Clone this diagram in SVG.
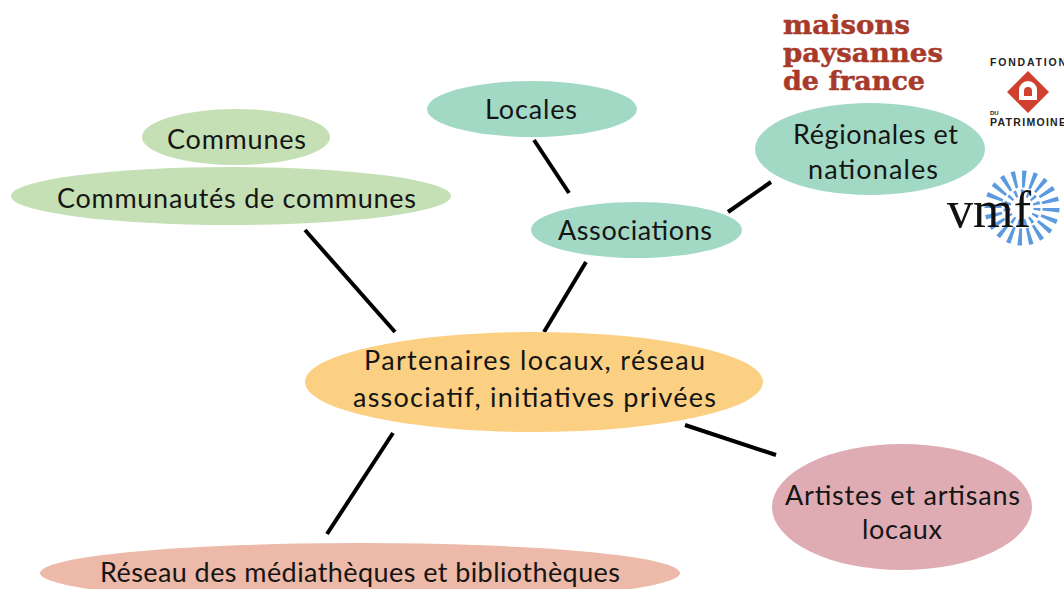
<svg xmlns="http://www.w3.org/2000/svg" width="1064" height="589" viewBox="0 0 1064 589">
<style>
text{font-family:"Lato","Noto Sans",sans-serif;font-size:27px;fill:#151515;text-anchor:middle}
.c line{stroke:#000;stroke-width:4}
text.mp{font-family:"DejaVu Serif",serif;font-weight:700;font-size:26.500px;fill:#a83a2b;text-anchor:start;stroke:#a83a2b;stroke-width:.5}
text.fd{font-family:"Liberation Sans",sans-serif;font-weight:700;font-size:10.5px;fill:#222;text-anchor:start}
text.vm{font-family:"Liberation Serif",serif;font-size:52px;fill:#111;text-anchor:start}
.ray{fill:none;stroke:#5b9ade}
</style>
<rect width="1064" height="589" fill="#fff"/>
<g class="c" id="connectors">
<line x1="305" y1="230" x2="395" y2="332"/>
<line x1="586" y1="262" x2="544" y2="332"/>
<line x1="534" y1="140" x2="569" y2="193"/>
<line x1="771" y1="182" x2="728" y2="212"/>
<line x1="685" y1="425" x2="776" y2="455"/>
<line x1="393" y1="433" x2="327" y2="534"/>
</g>
<g id="communes"><ellipse cx="236" cy="137" rx="94" ry="28" fill="#c5e0b4"/><text x="236.500" y="149" textLength="139">Communes</text></g>
<g id="communautes"><ellipse cx="231" cy="196" rx="220" ry="29" fill="#c5e0b4"/><text x="236.500" y="208" textLength="359">Communautés de communes</text></g>
<g id="locales"><ellipse cx="532" cy="109" rx="105" ry="28" fill="#a2d9c5"/><text x="531" y="119" textLength="92">Locales</text></g>
<g id="associations"><ellipse cx="636.500" cy="230" rx="105.500" ry="28" fill="#a2d9c5"/><text x="635" y="240" textLength="154">Associations</text></g>
<g id="regionales"><ellipse cx="870" cy="149" rx="115" ry="46" fill="#a2d9c5"/><text x="875.500" y="144" textLength="165">Régionales et</text><text x="873" y="179" textLength="130">nationales</text></g>
<g id="partenaires"><ellipse cx="534" cy="382" rx="229" ry="50" fill="#fbd083"/><text x="534.500" y="370" textLength="341">Partenaires locaux, réseau</text><text x="534.500" y="407" textLength="363">associatif, initiatives privées</text></g>
<g id="artistes"><ellipse cx="902" cy="507" rx="130" ry="63" fill="#dfacb4"/><text x="902.500" y="505" textLength="235">Artistes et artisans</text><text x="902" y="539" textLength="80">locaux</text></g>
<g id="reseau"><ellipse cx="360" cy="573" rx="320" ry="30" fill="#edb9a8"/><text x="360" y="582" textLength="520">Réseau des médiathèques et bibliothèques</text></g>
<g id="logo-maisons">
<text class="mp" x="783" y="34" textLength="127" lengthAdjust="spacingAndGlyphs">maisons</text>
<text class="mp" x="783" y="62" textLength="160" lengthAdjust="spacingAndGlyphs">paysannes</text>
<text class="mp" x="783" y="90" textLength="142" lengthAdjust="spacingAndGlyphs">de france</text>
</g>
<g id="logo-fondation">
<text class="fd" x="990" y="66" textLength="76">FONDATION</text>
<path d="M1028 71L1049 92L1028 113L1007 92Z" fill="#d0402f"/>
<path d="M1019 100V90a9 9 0 0 1 18 0V100Z" fill="#fff"/>
<path d="M1024 96V91a4 4 0 0 1 8 0V96Z" fill="#d0402f"/>
<text class="fd" style="font-size:6px" x="990" y="115">DU</text>
<text class="fd" x="990" y="126" textLength="76">PATRIMOINE</text>
</g>
<g id="logo-vmf">
<circle class="ray" cx="1022" cy="208" r="29" stroke-width="17" stroke-dasharray="3.600 5.500"/>
<circle class="ray" cx="1022" cy="208" r="15" stroke-width="7" stroke-dasharray="2.500 3.780"/>
<text class="vm" x="947" y="227" textLength="84" lengthAdjust="spacingAndGlyphs">vmf</text>
</g>
</svg>
